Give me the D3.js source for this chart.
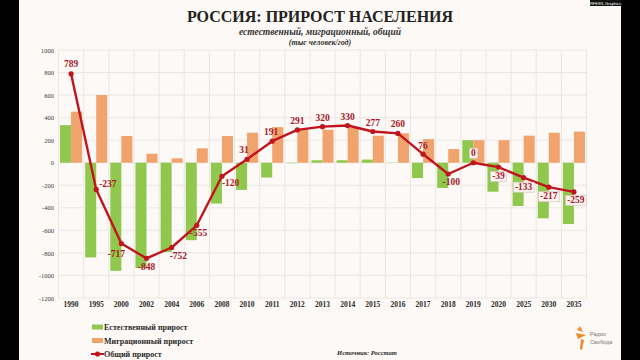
<!DOCTYPE html>
<html><head><meta charset="utf-8">
<script src="https://cdn.jsdelivr.net/npm/d3@7"></script>
<style>
html,body{margin:0;padding:0;background:#000;}
svg{display:block;}
</style></head>
<body>
<svg id="chart" width="640" height="360"></svg>
<script>
const years = ["1990","1995","2000","2002","2004","2006","2008","2010","2011","2012","2013","2014","2015","2016","2017","2018","2019","2020","2025","2030","2035"];
const natural = [333,-840,-959,-935,-792,-687,-362,-241,-131,-4,22,22,28,-2,-136,-224,200,-257,-384,-493,-544];
const migration = [453,601,237,80,39,128,237,266,316,296,292,310,240,261,210,121,200,200,240,266,276];
const total = [789,-237,-717,-848,-752,-555,-120,31,191,291,320,330,277,260,76,-100,0,-39,-133,-217,-259];
const yTicks = [1000,800,600,400,200,0,-200,-400,-600,-800,-1000,-1200];
const forecastFrom = "2019";

// label placement config (dx, dy relative to point, anchor)
const labelPlace = [
  [0,-7,"middle"],[3,-2,"start"],[-5,13,"middle"],[0,12,"middle"],[-2,12,"start"],[-7,11,"start"],
  [0,10,"start"],[-3,-6,"middle"],[-1,-6,"middle"],[0,-6,"middle"],[0,-6,"middle"],[0,-6,"middle"],
  [0,-6,"middle"],[0,-6,"middle"],[0,-5,"middle"],[3,11,"middle"],[0,-7,"middle"],[0,12,"middle"],
  [0,12,"middle"],[0,12,"middle"],[2,11,"middle"]
];

const svg = d3.select("#chart");
const serif = "'Liberation Serif','DejaVu Serif',serif";
const C = {green:"#8fc84c", orange:"#f0a36c", red:"#c0141e", grid:"#ece6e2", text:"#2b2b2b", lab:"#a8182a"};

// panel
svg.append("rect").attr("x",19).attr("y",0).attr("width",602).attr("height",360).attr("fill","#fcf9f6");
svg.append("rect").attr("x",590).attr("y",0).attr("width",31).attr("height",6).attr("fill","#111");
svg.append("text").attr("x",605.5).attr("y",4.6).attr("text-anchor","middle").attr("font-size",4)
  .attr("font-family","'Liberation Sans',sans-serif").attr("fill","#fff").text("RFE/RL Graphics");

// titles
svg.append("text").attr("x",320).attr("y",22).attr("text-anchor","middle")
  .attr("font-family",serif).attr("font-weight","bold").attr("font-size",16).attr("fill","#222")
  .text("РОССИЯ: ПРИРОСТ НАСЕЛЕНИЯ");
svg.append("text").attr("x",320).attr("y",35).attr("text-anchor","middle")
  .attr("font-family",serif).attr("font-weight","bold").attr("font-style","italic").attr("font-size",9.5).attr("fill","#333")
  .text("естественный, миграционный, общий");
svg.append("text").attr("x",320).attr("y",44.5).attr("text-anchor","middle")
  .attr("font-family",serif).attr("font-weight","bold").attr("font-style","italic").attr("font-size",8).attr("fill","#333")
  .text("(тыс человек/год)");

const x = d3.scaleBand().domain(years).range([58.5,586.5]).padding(0);
const y = d3.scaleLinear().domain([-1200,1000]).range([298,50]);
const sub = d3.scaleBand().domain(["nat","mig"]).range([0,x.bandwidth()]).paddingInner(0).paddingOuter(0.14);

// grid
const g = svg.append("g");
g.selectAll("line.h").data(yTicks).join("line").attr("class","h")
  .attr("x1",x.range()[0]).attr("x2",x.range()[1]).attr("y1",d=>y(d)).attr("y2",d=>y(d))
  .attr("stroke",C.grid).attr("stroke-width",1);
const bounds = years.map(d=>x(d)).concat([x.range()[1]]);
g.selectAll("line.v").data(bounds).join("line").attr("class","v")
  .attr("x1",d=>d).attr("x2",d=>d).attr("y1",y(1000)).attr("y2",y(-1200))
  .attr("stroke",C.grid).attr("stroke-width",1);

// y axis
const yAxis = d3.axisLeft(y).tickValues(yTicks).tickFormat(d=>String(d)).tickSize(0).tickPadding(0);
const ya = svg.append("g").attr("transform","translate(54,0)").call(yAxis);
ya.select(".domain").remove();
ya.selectAll("text").attr("font-family",serif).attr("font-size",6.5).attr("fill","#3a3a3a");

// x axis
const xAxis = d3.axisBottom(x).tickSize(0).tickPadding(0);
const xa = svg.append("g").attr("transform","translate(0,302)").call(xAxis);
xa.select(".domain").remove();
xa.selectAll("text").attr("font-family",serif).attr("font-weight","bold").attr("font-size",7.5).attr("fill",C.text);

// bars
svg.append("g").selectAll("rect").data(years).join("rect")
  .attr("x",d=>x(d)+sub("nat")).attr("width",sub.bandwidth())
  .attr("y",(d,i)=>y(Math.max(0,natural[i]))).attr("height",(d,i)=>Math.abs(y(natural[i])-y(0)))
  .attr("fill",C.green);
svg.append("g").selectAll("rect").data(years).join("rect")
  .attr("x",d=>x(d)+sub("mig")).attr("width",sub.bandwidth())
  .attr("y",(d,i)=>y(Math.max(0,migration[i]))).attr("height",(d,i)=>Math.abs(y(migration[i])-y(0)))
  .attr("fill",C.orange);

// line
const cx = d=>x(d)+x.bandwidth()/2;
const line = d3.line().x(d=>cx(d[0])).y(d=>y(d[1]));
const pts = years.map((d,i)=>[d,total[i]]);
svg.append("path").datum(pts).attr("d",line).attr("fill","none").attr("stroke",C.red).attr("stroke-width",2.4).attr("stroke-linejoin","round");
svg.append("g").selectAll("circle").data(pts).join("circle")
  .attr("cx",d=>cx(d[0])).attr("cy",d=>y(d[1])).attr("r",2.6).attr("fill",C.red);

// labels
const fIdx = years.indexOf(forecastFrom);
const lg = svg.append("g");
pts.forEach((d,i)=>{
  const [dx,dy,anc] = labelPlace[i];
  const grp = lg.append("g");
  const t = grp.append("text").attr("x",cx(d[0])+dx).attr("y",y(d[1])+dy).attr("text-anchor",anc)
    .attr("font-family",serif).attr("font-weight","bold").attr("font-size",9.5).attr("fill",C.lab)
    .text(d[1]);
  if(i>=fIdx){
    const b = t.node().getBBox();
    grp.insert("rect","text").attr("x",b.x-1.5).attr("y",b.y+0.5).attr("width",b.width+3).attr("height",b.height)
      .attr("fill","#fbf4f1").attr("stroke","#d8c6c2").attr("stroke-width",0.7);
  }
});

// legend
const leg = svg.append("g").attr("font-family",serif).attr("font-weight","bold").attr("font-size",8).attr("fill",C.text);
const legItems = [["Естественный прирост",C.green,"rect"],["Миграционный прирост",C.orange,"rect"],["Общий прирост",C.red,"line"]];
legItems.forEach((it,i)=>{
  const yy = 327 + i*13.5;
  if(it[2]==="rect"){
    leg.append("rect").attr("x",92).attr("y",yy-2.5).attr("width",11).attr("height",5).attr("fill",it[1]);
  } else {
    leg.append("line").attr("x1",91).attr("x2",104).attr("y1",yy).attr("y2",yy).attr("stroke",it[1]).attr("stroke-width",2);
    leg.append("circle").attr("cx",97.5).attr("cy",yy).attr("r",2.6).attr("fill",it[1]);
  }
  leg.append("text").attr("x",104).attr("y",yy+3).text(it[0]);
});

// source
svg.append("text").attr("x",367).attr("y",355).attr("text-anchor","middle")
  .attr("font-family",serif).attr("font-weight","bold").attr("font-style","italic").attr("font-size",6.5).attr("fill",C.text)
  .text("Источник: Росстат");

// logo
const logo = svg.append("g").attr("transform","translate(572,326)");
logo.append("path").attr("d","M8,0 L11,6 L5,4 Z M4,7 L14,9 L6,13 Z M9,13 L12,14 L10,24 L8,23 Z").attr("fill","#f08a24");
logo.append("text").attr("x",18).attr("y",10).attr("font-family","'Liberation Sans',sans-serif").attr("font-size",5.5).attr("fill","#777").text("Радио");
logo.append("text").attr("x",18).attr("y",18).attr("font-family","'Liberation Sans',sans-serif").attr("font-size",5.5).attr("fill","#777").text("Свобода");
</script>
</body></html>
